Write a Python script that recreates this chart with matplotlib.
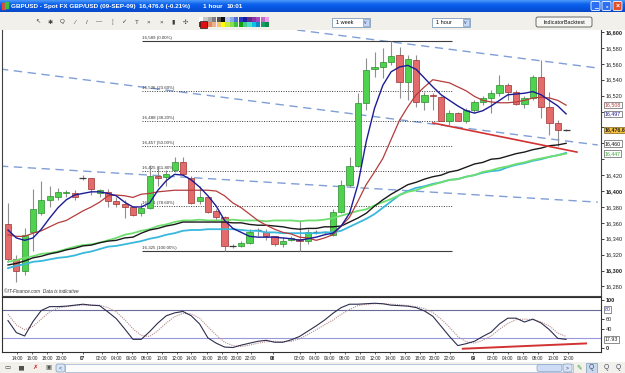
import numpy as np
import matplotlib.pyplot as plt
from matplotlib.patches import Rectangle, FancyBboxPatch
from matplotlib.colors import LinearSegmentedColormap

plt.rcParams['font.family'] = ['Liberation Sans', 'DejaVu Sans']

W, H = 625, 373

# hourly GBP/USD candles
opens = [16359, 16315, 16299, 16348, 16373, 16389, 16393, 16397, 16398, 16417,
         16416, 16397, 16399, 16388, 16384, 16380, 16372, 16379, 16419, 16418,
         16427, 16436, 16417, 16387, 16392, 16375, 16367, 16331, 16331, 16335,
         16351, 16349, 16343, 16333, 16338, 16340, 16337, 16349, 16348, 16345,
         16374, 16408, 16432, 16511, 16554, 16556, 16562, 16571, 16537, 16565,
         16512, 16521, 16518, 16488, 16498, 16488, 16502, 16512, 16517, 16523,
         16533, 16525, 16510, 16517, 16544, 16506, 16485, 16477]
highs = [16385, 16320, 16353, 16402, 16412, 16406, 16404, 16401, 16401, 16420,
         16417, 16403, 16403, 16393, 16389, 16381, 16385, 16433, 16431, 16427,
         16443, 16443, 16419, 16406, 16393, 16377, 16368, 16333, 16337, 16352,
         16353, 16352, 16344, 16342, 16343, 16364, 16352, 16351, 16350, 16377,
         16414, 16443, 16523, 16567, 16575, 16580, 16589, 16581, 16571, 16571,
         16524, 16523, 16520, 16502, 16500, 16505, 16515, 16520, 16527, 16546,
         16536, 16527, 16520, 16546, 16565, 16525, 16489, 16478]
lows = [16311, 16286, 16295, 16324, 16370, 16380, 16389, 16393, 16389, 16414,
        16395, 16393, 16380, 16380, 16366, 16368, 16368, 16377, 16406, 16406,
        16424, 16420, 16384, 16384, 16372, 16364, 16325, 16328, 16330, 16333,
        16343, 16338, 16331, 16330, 16337, 16324, 16333, 16346, 16346, 16343,
        16372, 16405, 16430, 16502, 16543, 16542, 16558, 16517, 16515, 16506,
        16502, 16502, 16488, 16483, 16488, 16486, 16500, 16508, 16498, 16520,
        16515, 16508, 16504, 16515, 16492, 16471, 16457, 16476]
closes = [16315, 16299, 16345, 16377, 16389, 16394, 16399, 16399, 16392, 16417,
          16403, 16401, 16387, 16384, 16380, 16370, 16379, 16419, 16417, 16422,
          16436, 16422, 16385, 16392, 16374, 16367, 16331, 16331, 16335, 16349,
          16351, 16343, 16333, 16337, 16341, 16337, 16348, 16349, 16348, 16374,
          16408, 16432, 16511, 16552, 16556, 16562, 16570, 16537, 16566, 16512,
          16521, 16519, 16488, 16498, 16488, 16502, 16512, 16517, 16523, 16533,
          16525, 16510, 16517, 16544, 16506, 16485, 16477, 16476.6]

# moving averages drawn on the chart
blue_ma = [16351, 16341, 16338, 16341, 16352, 16366, 16379, 16389, 16395, 16397,
           16399, 16399, 16397, 16394, 16386, 16380, 16380, 16385, 16401, 16413,
           16421, 16420, 16414, 16405, 16394, 16381, 16363, 16353, 16348, 16343,
           16342, 16342, 16342, 16341, 16340, 16338, 16340, 16342, 16345, 16347,
           16356, 16372, 16408, 16462, 16504, 16533, 16550, 16556, 16558, 16553,
           16542, 16531, 16521, 16514, 16507, 16501, 16498, 16501, 16507, 16514,
           16521, 16522, 16523, 16525, 16521, 16514, 16507, 16497]
red_ma = [16345, 16343, 16343, 16347, 16350, 16355, 16360, 16363, 16369, 16375,
          16380, 16386, 16394, 16395, 16394, 16392, 16396, 16397, 16399, 16400,
          16401, 16401, 16401, 16401, 16401, 16400, 16394, 16385, 16379, 16371,
          16363, 16357, 16352, 16348, 16346, 16342, 16341, 16338, 16341, 16345,
          16356, 16367, 16387, 16408, 16424, 16441, 16465, 16489, 16506, 16521,
          16531, 16540, 16538, 16536, 16531, 16526, 16519, 16514, 16512, 16511,
          16511, 16512, 16514, 16517, 16518, 16517, 16514, 16508]
black_ma = [16307, 16309, 16312, 16316, 16318, 16321, 16323, 16326, 16328, 16331,
            16332, 16335, 16337, 16338, 16341, 16342, 16347, 16351, 16353, 16356,
            16358, 16361, 16361, 16361, 16361, 16361, 16361, 16360, 16360, 16358,
            16357, 16357, 16356, 16355, 16353, 16352, 16353, 16353, 16355, 16355,
            16356, 16361, 16366, 16372, 16381, 16389, 16396, 16402, 16408, 16411,
            16415, 16418, 16420, 16424, 16426, 16430, 16434, 16436, 16440, 16441,
            16444, 16447, 16449, 16452, 16454, 16457, 16458, 16460]
green_ma = [16311, 16313, 16316, 16318, 16321, 16322, 16324, 16327, 16330, 16332,
            16333, 16335, 16338, 16341, 16345, 16347, 16350, 16352, 16356, 16358,
            16361, 16363, 16363, 16364, 16363, 16363, 16363, 16364, 16363, 16363,
            16363, 16362, 16363, 16363, 16363, 16362, 16363, 16363, 16364, 16366,
            16369, 16372, 16375, 16377, 16382, 16386, 16390, 16395, 16399, 16401,
            16405, 16408, 16411, 16414, 16415, 16418, 16420, 16424, 16426, 16429,
            16431, 16434, 16436, 16439, 16441, 16443, 16445, 16447]
cyan_ma = [16303, 16306, 16308, 16311, 16312, 16314, 16316, 16317, 16319, 16322,
           16324, 16327, 16330, 16331, 16333, 16335, 16337, 16340, 16342, 16345,
           16347, 16350, 16351, 16351, 16352, 16352, 16352, 16352, 16351, 16350,
           16350, 16348, 16348, 16347, 16347, 16347, 16347, 16347, 16348, 16348,
           16350, 16355, 16360, 16365, 16371, 16379, 16387, 16395, 16400, 16404,
           16406, 16409, 16411, 16414, 16415, 16418, 16420, 16423, 16425, 16426,
           16430, 16433, 16435, 16438, 16440, 16443, 16445, 16448]

# stochastic oscillator
stoch_k = [57, 32, 25, 55, 78, 86, 86, 87, 89, 91,
           89, 88, 75, 61, 40, 18, 18, 34, 52, 67,
           73, 76, 67, 50, 21, 10, 2, 1, 6, 10,
           14, 16, 12, 12, 17, 24, 35, 46, 58, 72,
           84, 91, 91, 92, 93, 92, 89, 88, 87, 84,
           77, 66, 45, 24, 5, 9, 14, 24, 33, 50,
           62, 62, 54, 60, 52, 38, 20, 17.93]
stoch_d = [70, 48, 38, 45, 60, 75, 83, 86, 88, 89,
           89, 89, 84, 75, 59, 40, 26, 24, 36, 52,
           65, 72, 71, 62, 44, 27, 12, 5, 3, 6,
           10, 13, 14, 13, 14, 19, 28, 38, 48, 58,
           70, 80, 88, 91, 92, 92, 91, 90, 88, 86,
           82, 74, 60, 43, 24, 13, 10, 16, 25, 39,
           51, 59, 60, 59, 54, 46, 31, 24]

# fibonacci retracement 16,325 -> 16,589
fib_levels = [16589, 16526, 16488, 16457, 16425, 16381, 16325]
fib_pcts = ['0.00%', '23.60%', '38.20%', '50.00%', '61.80%', '78.60%', '100.00%']
fib_span = (16.1, 53.3)

# drawn trend lines: (candle, price) end points
channel_lines = [((34.7, 16602.5), (70.8, 16554.7)),
                 ((-0.96, 16553.5), (70.8, 16457.9)),
                 ((-0.96, 16431.4), (70.8, 16386.0))]
support_line = ((51.0, 16485.6), (68.3, 16449.0))
osc_line = ((54.6, -1.5), (69.4, 9.5))

time_labels = ['14:00', '16:00', '18:00', '20:00', '07', '02:00', '04:00', '06:00',
               '08:00', '10:00', '12:00', '14:00', '16:00', '18:00', '20:00', '22:00',
               '08', '02:00', '04:00', '06:00', '08:00', '10:00', '12:00', '14:00',
               '16:00', '18:00', '20:00', '22:00', '09', '02:00', '04:00', '06:00',
               '08:00', '10:00', '12:00']
time_pos = [1.08, 2.88, 4.68, 6.48, 9.0, 11.28, 13.09, 14.89, 16.69, 18.49, 20.29,
            21.97, 23.89, 25.69, 27.49, 29.17, 31.81, 35.05, 36.85, 38.66, 40.46,
            42.26, 44.06, 45.86, 47.66, 49.46, 51.26, 53.06, 55.82, 58.22, 60.02,
            61.82, 63.63, 65.43, 67.23]

price_ticks = list(range(16280, 16601, 20))
hidden_ticks = [16440, 16460, 16480, 16500]   # covered by the value boxes
ma_boxes = [(16508, '16,508', '#b03a3a'), (16497, '16,497', '#1a1a8c'),
            (16460, '16,460', '#111111'), (16447, '16,447', '#3aa83a')]
last_price = 16476.6

fig = plt.figure(figsize=(W / 100, H / 100), dpi=100)
fig.patch.set_facecolor('white')


def px_axes(x0, y0, x1, y1):
    a = fig.add_axes([x0 / W, 1 - y1 / H, (x1 - x0) / W, (y1 - y0) / H])
    return a


def deco_axes(x0, y0, x1, y1, color):
    a = px_axes(x0, y0, x1, y1)
    a.set_xlim(0, W)
    a.set_ylim(y1, y0)
    a.set_facecolor(color)
    a.set_xticks([])
    a.set_yticks([])
    for s in a.spines.values():
        s.set_visible(False)
    return a


# ---- title bar ----
tb = deco_axes(0, 0, W, 12, '#0a5ce6')
cmap = LinearSegmentedColormap.from_list('xp', ['#4a98fa', '#0d62ec', '#0455e2', '#0a48c6'])
tb.imshow(np.linspace(0, 1, 24).reshape(-1, 1), aspect='auto', cmap=cmap,
          extent=(0, W, 12, 0))
tb.set_xlim(0, W)
tb.set_ylim(12, 0)
tb.add_patch(Rectangle((2, 3), 2.5, 6, color='#e04a3a'))
tb.add_patch(Rectangle((5, 2), 2.5, 6, color='#40c040'))
tb.text(11, 6.3, 'GBPUSD - Spot FX GBP/USD (09-SEP-09)', color='white', fontsize=4.6,
        fontweight='bold', va='center')
tb.text(139, 6.3, '16,476.6 (-0.21%)', color='white', fontsize=4.6, fontweight='bold', va='center')
tb.text(203, 6.3, '1 hour', color='white', fontsize=4.6, fontweight='bold', va='center')
tb.text(227, 6.3, '10:01', color='white', fontsize=4.6, fontweight='bold', va='center')
for bx, fc, glyph in [(591, '#2d6ff0', '_'), (602, '#2d6ff0', '▫'), (613, '#e0502a', '×')]:
    tb.add_patch(FancyBboxPatch((bx, 1.5), 9, 9, boxstyle='round,pad=0,rounding_size=1.5',
                                fc=fc, ec='white', lw=0.6))
    tb.text(bx + 4.5, 6.2, glyph, color='white', fontsize=5, fontweight='bold',
            ha='center', va='center')

# ---- tool bar ----
tl = deco_axes(0, 12, W, 30, '#f1f0ea')
icons = ['↖', '✱', 'Q', '⁄', '/', '—', '┆', '✓', 'T', '×', '×', '▮', '✣']
for k, g in enumerate(icons):
    tl.text(38 + k * 12.3, 22, g, fontsize=4.5, color='#404040', ha='center', va='center')
pal_top = ['#ffffff', '#c8c8c8', '#a8a8a8', '#808080', '#505050', '#101010', '#b8cdf2',
           '#88a8ea', '#5070d8', '#2838c4', '#1a1aa0', '#602a88', '#8a34a8', '#a848c4',
           '#c868c8', '#e8a0e8']
pal_bot = ['#e00000', '#c04848', '#e08868', '#f2ae88', '#f2c868', '#ffff00', '#c8e848',
           '#88e048', '#40c040', '#10a010', '#48c890', '#48e0c8', '#10c0e8', '#1088c8',
           '#10a068', '#108848']
for k, (c1, c2) in enumerate(zip(pal_top, pal_bot)):
    tl.add_patch(Rectangle((199 + k * 4.4, 17), 4.2, 4.8, fc=c1, ec='none'))
    tl.add_patch(Rectangle((199 + k * 4.4, 22.2), 4.2, 4.8, fc=c2, ec='none'))
tl.add_patch(Rectangle((200, 21), 7, 7, fc='#e01010', ec='#202020', lw=0.5))
for bx, label in [(332, '1 week'), (432, '1 hour')]:
    tl.add_patch(Rectangle((bx, 18), 38, 9, fc='white', ec='#7f9db9', lw=0.6))
    tl.add_patch(Rectangle((bx + 30.5, 19), 6.5, 7, fc='#c6d6f6', ec='#7f9db9', lw=0.5))
    tl.text(bx + 33.7, 22.3, 'v', fontsize=3.6, color='#304060', ha='center', va='center')
    tl.text(bx + 3.5, 22.6, label, fontsize=4, color='#111111', va='center')
tl.add_patch(FancyBboxPatch((536, 17), 56, 10, boxstyle='round,pad=0,rounding_size=2',
                            fc='#f6f6f2', ec='#555555', lw=0.6))
tl.text(564, 22.2, 'IndicatorBacktest', fontsize=3.9, color='#111111', ha='center', va='center')

# ---- main price panel ----
ax = px_axes(2, 30, 601, 296)
x = np.arange(len(opens))
o = np.array(opens, dtype=float)
c = np.array(closes, dtype=float)
body = np.abs(c - o)
doji = body < 1.5
up = (c >= o) & ~doji
dn = (c < o) & ~doji

for (x0, y0), (x1, y1) in channel_lines:
    ax.plot([x0, x1], [y0, y1], color='#7f9fd6', lw=1.0, dashes=(6, 4), zorder=2)

for lvl, pct in zip(fib_levels, fib_pcts):
    edge = pct in ('0.00%', '100.00%')
    ax.hlines(lvl, fib_span[0], fib_span[1], colors='#3c3c3c', lw=0.8 if edge else 0.7,
              linestyles='-' if edge else (0, (1, 1.5)), zorder=2)
    ax.text(fib_span[0], lvl + 1.2, f'{lvl:,} ({pct})', fontsize=3.2, color='#333333',
            va='bottom', ha='left', zorder=2)

ax.vlines(x, lows, highs, color='#8f8f8f', lw=0.8, zorder=3)
ax.bar(x[up], body[up], bottom=o[up], width=0.74, color='#4fd34f', edgecolor='#2e8b2e',
       lw=0.5, zorder=4)
ax.bar(x[dn], body[dn], bottom=c[dn], width=0.74, color='#e36b6b', edgecolor='#9b3030',
       lw=0.5, zorder=4)
ax.hlines(o[doji], x[doji] - 0.42, x[doji] + 0.42, color='#3a3a3a', lw=0.9, zorder=4)

ax.plot(x, cyan_ma, color='#38b8dc', lw=1.3, zorder=5)
ax.plot(x, green_ma, color='#6ede6e', lw=1.3, zorder=5)
ax.plot(x, black_ma, color='#1a1a1a', lw=1.0, zorder=5)
ax.plot(x, red_ma, color='#b43c3c', lw=0.9, zorder=5)
ax.plot(x, blue_ma, color='#1c1c96', lw=1.0, zorder=6)
(sx0, sy0), (sx1, sy1) = support_line
ax.plot([sx0, sx1], [sy0, sy1], color='#d23232', lw=1.2, zorder=6)

ax.set_xlim(-0.72, 71.19)
ax.set_ylim(16268, 16602.5)
ax.set_xticks([])
ax.yaxis.tick_right()
ax.set_yticks(price_ticks)
ax.set_yticklabels(['' if v in hidden_ticks else f'{v:,}' for v in price_ticks])
ax.tick_params(axis='y', labelsize=4, length=2, pad=1.2, width=0.6, colors='#222222')
for lab, v in zip(ax.get_yticklabels(), price_ticks):
    if v % 100 == 0:
        lab.set_fontweight('bold')
for s in ax.spines.values():
    s.set_color('#404040')
    s.set_linewidth(0.8)
ax.spines['top'].set_visible(False)
ax.text(0.003, 0.016, '©IT-Finance.com  Data is indicative', transform=ax.transAxes,
        fontsize=3.4, style='italic', color='#333333', va='center')

ytr = ax.get_yaxis_transform()
for val, label, col in ma_boxes:
    ax.text(1.006, val, label, transform=ytr, fontsize=3.8, color=col, va='center',
            ha='left', clip_on=False, zorder=10,
            bbox=dict(boxstyle='square,pad=0.15', fc='white', ec='#606060', lw=0.5))
ax.text(1.006, last_price, f'{last_price:,.1f}', transform=ytr, fontsize=3.8,
        fontweight='bold', color='#222222', va='center', ha='left', clip_on=False, zorder=11,
        bbox=dict(boxstyle='square,pad=0.15', fc='#f7c23c', ec='#806020', lw=0.5))

# ---- oscillator panel ----
ax2 = px_axes(2, 297, 601, 352)
ax2.axhline(80, color='#6a6a98', lw=0.8, zorder=1)
ax2.axhline(20, color='#9898dc', lw=0.8, zorder=1)
ax2.plot(x, stoch_d, color='#b88c8c', lw=0.8, ls=(0, (1, 1)), zorder=3)
ax2.plot(x, stoch_k, color='#2e2e4e', lw=0.8, zorder=4)
(ox0, oy0), (ox1, oy1) = osc_line
ax2.plot([ox0, ox1], [oy0, oy1], color='#d23232', lw=1.4, zorder=5)
ax2.set_xlim(-0.72, 71.19)
ax2.set_ylim(-8.3, 106)
ax2.yaxis.tick_right()
ax2.set_yticks([0, 40, 60, 100])
ax2.set_yticklabels(['0', '40', '60', '100'])
ax2.tick_params(axis='y', labelsize=4, length=2, pad=1.2, width=0.6, colors='#222222')
for lab in ax2.get_yticklabels():
    if lab.get_text() in ('0', '100'):
        lab.set_fontweight('bold')
ax2.set_xticks(time_pos)
ax2.set_xticklabels(time_labels)
ax2.tick_params(axis='x', labelsize=3.3, length=1.5, pad=1.5, width=0.5, colors='#222222')
for lab in ax2.get_xticklabels():
    if ':' not in lab.get_text():
        lab.set_fontweight('bold')
for s in ax2.spines.values():
    s.set_color('#303030')
    s.set_linewidth(0.8)
ytr2 = ax2.get_yaxis_transform()
ax2.text(1.006, 80, '80', transform=ytr2, fontsize=3.8, color='#3030c0', va='center',
         clip_on=False, zorder=10,
         bbox=dict(boxstyle='square,pad=0.15', fc='white', ec='#606060', lw=0.5))
ax2.text(1.006, stoch_k[-1], f'{stoch_k[-1]:.2f}', transform=ytr2, fontsize=3.8,
         color='#222222', va='center', clip_on=False, zorder=10,
         bbox=dict(boxstyle='square,pad=0.15', fc='white', ec='#606060', lw=0.5))

# ---- bottom bar ----
bb = deco_axes(0, 362, W, 373, '#f1f0ea')
for bx, g, col in [(7, '▭', '#404040'), (20, '▆', '#505050'), (35, '✗', '#d02020'),
                   (48, '▣', '#505050')]:
    bb.text(bx, 367.8, g, fontsize=4.6, color=col, ha='center', va='center')
bb.add_patch(Rectangle((65, 364), 508, 8, fc='#fbfbfb', ec='#a8bcd8', lw=0.6))
bb.add_patch(FancyBboxPatch((56, 364), 9, 8, boxstyle='round,pad=0,rounding_size=2',
                            fc='#d8e4f8', ec='#7f9db9', lw=0.5))
bb.text(60.5, 368, '<', fontsize=3.8, color='#304060', ha='center', va='center')
bb.add_patch(FancyBboxPatch((537, 364.5), 25, 7, boxstyle='round,pad=0,rounding_size=2',
                            fc='#cddcf4', ec='#8aa4cc', lw=0.5))
bb.add_patch(FancyBboxPatch((563, 364), 9, 8, boxstyle='round,pad=0,rounding_size=2',
                            fc='#d8e4f8', ec='#7f9db9', lw=0.5))
bb.text(567.5, 368, '>', fontsize=3.8, color='#304060', ha='center', va='center')
bb.text(579, 367.8, '✎', fontsize=4.8, color='#3a9a3a', ha='center', va='center')
bb.add_patch(Rectangle((586, 363), 11, 10, fc='#c8d8f0', ec='#7f9db9', lw=0.5))
for bx in (591.5, 606, 618):
    bb.text(bx, 367.8, 'Q', fontsize=4.8, color='#404860', ha='center', va='center')

fig.savefig('out.png', dpi=100)
